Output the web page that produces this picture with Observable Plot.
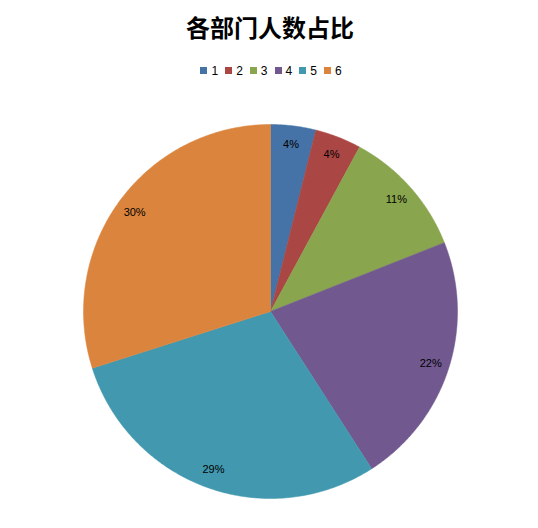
<!DOCTYPE html>
<html>
<head>
<meta charset="utf-8">
<script src="https://cdn.jsdelivr.net/npm/d3@7"></script>
<script src="https://cdn.jsdelivr.net/npm/@observablehq/plot@0.6"></script>
<style>
  html, body { margin: 0; padding: 0; background: #fff; }
  body { width: 538px; height: 528px; overflow: hidden; font-family: "Noto Sans CJK SC", "Noto Sans", sans-serif; }
  #title { height: 54px; line-height: 54px; text-align: center; font-size: 24px; font-weight: bold; color: #000; padding-left: 2px; }
  #legend { height: 32px; display: flex; justify-content: center; align-items: center; font-family: "Liberation Sans", "Noto Sans", sans-serif; font-size: 12px; color: #000; padding-left: 4px; padding-top: 1px; box-sizing: border-box; }
  .item { display: flex; align-items: center; margin: 0 3.5px; }
  .sw { width: 7px; height: 7px; margin-right: 4px; }
  #chart svg { display: block; }
</style>
</head>
<body>
<div id="title">各部门人数占比</div>
<div id="legend"></div>
<div id="chart"></div>
<script>
const categories = ["1", "2", "3", "4", "5", "6"];
const values = [3.9, 4.0, 11.1, 21.9, 29.2, 29.9];
const colors = ["#4572A7", "#AA4643", "#89A54E", "#71588F", "#4198AF", "#DB843D"];

const total = d3.sum(values);
const arcs = d3.pie().sort(null).value(d => d.value)(categories.map((c, i) => ({category: c, value: values[i]})));

// build slice outlines in unit coordinates (y up), clockwise from the top
const slicePts = [];
for (const a of arcs) {
  const c = a.data.category;
  slicePts.push({category: c, x: 0, y: 0});
  const n = Math.max(2, Math.ceil((a.endAngle - a.startAngle) / 0.01));
  for (let k = 0; k <= n; k++) {
    const t = a.startAngle + (a.endAngle - a.startAngle) * k / n;
    slicePts.push({category: c, x: Math.sin(t), y: Math.cos(t)});
  }
  slicePts.push({category: c, x: 0, y: 0});
}
const labels = arcs.map(a => {
  const m = (a.startAngle + a.endAngle) / 2;
  return {category: a.data.category, x: 0.9 * Math.sin(m), y: 0.9 * Math.cos(m), text: d3.format(".0%")(a.data.value / total)};
});

// legend
const lg = document.getElementById("legend");
categories.forEach((c, i) => {
  const it = document.createElement("div");
  it.className = "item";
  it.innerHTML = `<span class="sw" style="background:${colors[i]}"></span><span>${c}</span>`;
  lg.appendChild(it);
});

const R = 187, cx = 270, cy = 311 - 86;
const chart = Plot.plot({
  width: 538,
  height: 528 - 86,
  margin: 0,
  x: {domain: [-1, 1], range: [cx - R, cx + R], axis: null},
  y: {domain: [-1, 1], range: [cy + R, cy - R], axis: null},
  color: {domain: categories, range: colors},
  marks: [
    Plot.line(slicePts, {x: "x", y: "y", z: "category", fill: "category", stroke: "category", strokeWidth: 0.5, curve: "linear"}),
    Plot.text(labels, {x: "x", y: "y", text: "text", fill: "#000", fontSize: 11, fontFamily: "Liberation Sans, Noto Sans, sans-serif"})
  ]
});
document.getElementById("chart").appendChild(chart);
</script>
</body>
</html>
